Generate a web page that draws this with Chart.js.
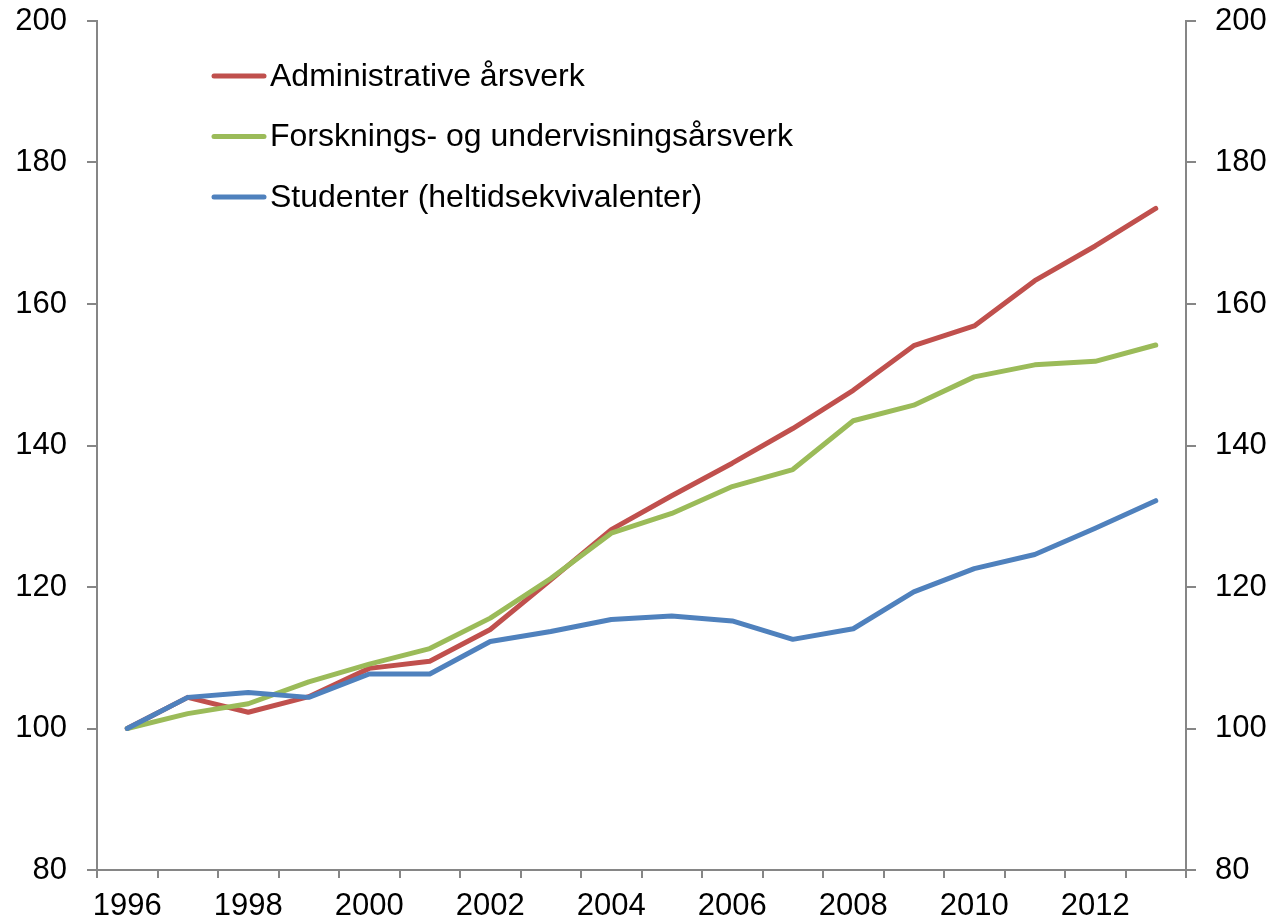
<!DOCTYPE html>
<html>
<head>
<meta charset="utf-8">
<script src="https://cdn.jsdelivr.net/npm/chart.js@4/dist/chart.umd.min.js"></script>
<style>
    html, body { margin: 0; padding: 0; background: #fff; }
    #wrap { width: 1272px; height: 923px; }
</style>
</head>
<body>
<div id="wrap"><canvas id="mainChart" width="1272" height="923"></canvas></div>
<script>
const years = ['1996', '1997', '1998', '1999', '2000', '2001', '2002', '2003', '2004',
    '2005', '2006', '2007', '2008', '2009', '2010', '2011', '2012', '2013'];

const administrative = [100, 104.4, 102.3, 104.5, 108.5, 109.5, 114, 121, 128.1,
    132.9, 137.5, 142.4, 147.8, 154.1, 156.9, 163.3, 168.2, 173.5];
const forskning = [100, 102.1, 103.5, 106.6, 109.1, 111.3, 115.6, 121.2, 127.6,
    130.4, 134.2, 136.6, 143.5, 145.7, 149.7, 151.4, 151.9, 154.2];
const studenter = [100, 104.4, 105.1, 104.4, 107.7, 107.7, 112.3, 113.7, 115.4,
    115.9, 115.2, 112.6, 114.1, 119.3, 122.6, 124.6, 128.3, 132.2];

const seriesNames = ['Administrative årsverk', 'Forsknings- og undervisningsårsverk', 'Studenter (heltidsekvivalenter)'];
const seriesColors = ['#C0504D', '#9BBB59', '#4F81BD'];

const yTicks = [80, 100, 120, 140, 160, 180, 200];

const FONT = "'Liberation Sans', Arial, sans-serif";
const axisGrey = '#868686';

// legend drawn inside the plot, like the original
const insideLegend = {
    id: 'insideLegend',
    afterDraw(chart) {
        const ctx = chart.ctx;
        ctx.save();
        ctx.font = `32px ${FONT}`;
        ctx.textBaseline = 'middle';
        ctx.fillStyle = '#000';
        ctx.lineCap = 'round';
        ctx.lineWidth = 5;
        seriesNames.forEach((name, i) => {
            const y = 76 + i * 60.5;
            ctx.strokeStyle = seriesColors[i];
            ctx.beginPath();
            ctx.moveTo(214, y);
            ctx.lineTo(264, y);
            ctx.stroke();
            ctx.fillText(name, 270, y + 1);
        });
        ctx.restore();
    }
};

const noPad = s => { s.paddingTop = 0; s.paddingBottom = 0; };

const ctx = document.getElementById('mainChart').getContext('2d');

new Chart(ctx, {
    type: 'line',
    data: {
        labels: years,
        datasets: [
            { label: seriesNames[0], data: administrative, borderColor: seriesColors[0], order: 2 },
            { label: seriesNames[1], data: forskning, borderColor: seriesColors[1], order: 1 },
            { label: seriesNames[2], data: studenter, borderColor: seriesColors[2], order: 0 }
        ].map(d => Object.assign(d, {
            borderWidth: 5,
            pointRadius: 0,
            pointHoverRadius: 0,
            tension: 0,
            fill: false,
            borderJoinStyle: 'round',
            borderCapStyle: 'round'
        }))
    },
    options: {
        responsive: false,
        animation: false,
        layout: { padding: { top: 21, left: 0, right: 0, bottom: 0 } },
        plugins: {
            legend: { display: false },
            tooltip: { enabled: false }
        },
        scales: {
            x: {
                type: 'category',
                offset: true,
                grid: {
                    offset: true,
                    drawOnChartArea: false,
                    drawTicks: true,
                    tickLength: 8,
                    color: axisGrey,
                    lineWidth: 2
                },
                border: { display: true, color: axisGrey, width: 2 },
                ticks: {
                    autoSkip: false,
                    maxRotation: 0,
                    padding: 10,
                    color: '#000',
                    font: { family: FONT, size: 31 },
                    callback: (val, i) => (i % 2 === 0 ? years[i] : '')
                },
                afterFit: s => { s.height = 53; s.paddingLeft = 0; s.paddingRight = 0; }
            },
            y: {
                position: 'left',
                min: 80,
                max: 200,
                afterBuildTicks: s => { s.ticks = yTicks.map(v => ({ value: v })); },
                grid: {
                    drawOnChartArea: false,
                    tickLength: 10,
                    color: axisGrey,
                    lineWidth: 2
                },
                border: { display: true, color: axisGrey, width: 2 },
                ticks: {
                    padding: 20,
                    color: '#000',
                    font: { family: FONT, size: 31 }
                },
                afterFit: s => { s.width = 97; noPad(s); }
            },
            y2: {
                position: 'right',
                min: 80,
                max: 200,
                afterBuildTicks: s => { s.ticks = yTicks.map(v => ({ value: v })); },
                grid: {
                    drawOnChartArea: false,
                    tickLength: 10,
                    color: axisGrey,
                    lineWidth: 2
                },
                border: { display: true, color: axisGrey, width: 2 },
                ticks: {
                    padding: 19,
                    color: '#000',
                    font: { family: FONT, size: 31 }
                },
                afterFit: s => { s.width = 86; noPad(s); }
            }
        }
    },
    plugins: [insideLegend]
});
</script>
</body>
</html>
